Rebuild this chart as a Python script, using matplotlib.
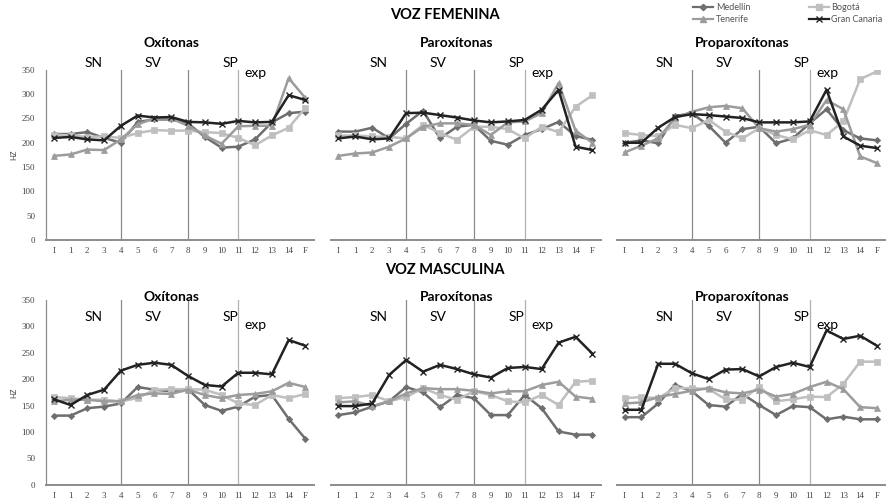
import matplotlib
matplotlib.use("Agg")
import matplotlib.pyplot as plt
from matplotlib.lines import Line2D

plt.rcParams['font.family'] = ['Lato', 'DejaVu Sans']

# categories on the x axis
positions = ["I", "1", "2", "3", "4", "5", "6", "7", "8", "9", "10", "11", "12", "13", "14", "F"]
panel_titles = ["Oxítonas", "Paroxítonas", "Proparoxítonas"]
speakers = ["Medellín", "Bogotá", "Tenerife", "Gran Canaria"]

# VOZ FEMENINA (Hz)
fem_oxi_medellin = [218, 218, 222, 210, 200, 243, 248, 248, 240, 212, 190, 192, 207, 242, 261, 264]
fem_oxi_bogota = [217, 215, 212, 213, 210, 220, 226, 225, 225, 222, 220, 210, 195, 215, 231, 272]
fem_oxi_tenerife = [173, 176, 186, 185, 207, 238, 250, 250, 235, 215, 198, 234, 235, 235, 333, 292]
fem_oxi_gcanaria = [210, 212, 207, 205, 235, 256, 252, 253, 243, 242, 239, 245, 242, 243, 298, 288]

fem_par_medellin = [223, 223, 231, 209, 239, 266, 209, 233, 237, 204, 196, 216, 228, 243, 214, 206]
fem_par_bogota = [215, 215, 213, 212, 209, 237, 220, 206, 233, 233, 228, 209, 233, 222, 274, 298]
fem_par_tenerife = [173, 178, 180, 192, 209, 233, 240, 240, 237, 216, 242, 244, 261, 323, 225, 200]
fem_par_gcanaria = [209, 213, 207, 209, 261, 262, 257, 252, 246, 242, 244, 247, 268, 309, 192, 185]

fem_pro_medellin = [200, 205, 199, 255, 261, 235, 200, 228, 233, 199, 209, 240, 269, 226, 209, 205]
fem_pro_bogota = [220, 216, 214, 237, 230, 247, 223, 209, 230, 216, 207, 226, 216, 244, 331, 347]
fem_pro_tenerife = [180, 194, 209, 251, 264, 273, 276, 271, 230, 223, 228, 237, 288, 269, 172, 158]
fem_pro_gcanaria = [200, 200, 231, 253, 259, 257, 254, 251, 242, 242, 242, 244, 309, 213, 194, 189]

# VOZ MASCULINA (Hz)
mas_oxi_medellin = [131, 131, 145, 148, 154, 185, 180, 177, 181, 151, 140, 148, 167, 170, 125, 87]
mas_oxi_bogota = [166, 164, 161, 161, 158, 164, 180, 181, 181, 180, 170, 154, 151, 170, 164, 172]
mas_oxi_tenerife = [158, 161, 161, 158, 158, 170, 173, 172, 180, 170, 164, 170, 172, 177, 193, 185]
mas_oxi_gcanaria = [162, 151, 170, 180, 216, 227, 231, 227, 206, 189, 186, 212, 212, 209, 274, 263]

mas_par_medellin = [132, 137, 148, 158, 185, 175, 147, 170, 164, 132, 132, 170, 145, 101, 95, 95]
mas_par_bogota = [164, 166, 170, 158, 166, 183, 170, 161, 177, 170, 158, 156, 170, 151, 195, 197]
mas_par_tenerife = [156, 158, 149, 158, 173, 183, 181, 181, 178, 173, 177, 177, 189, 195, 167, 163]
mas_par_gcanaria = [149, 149, 154, 208, 236, 214, 227, 219, 209, 203, 221, 223, 219, 269, 280, 248]

mas_pro_medellin = [128, 128, 154, 189, 177, 151, 148, 172, 151, 132, 149, 147, 124, 129, 124, 124]
mas_pro_bogota = [164, 166, 164, 183, 183, 181, 162, 161, 186, 158, 162, 167, 166, 191, 233, 233]
mas_pro_tenerife = [154, 156, 166, 172, 178, 183, 175, 173, 180, 167, 172, 185, 195, 181, 147, 145]
mas_pro_gcanaria = [142, 142, 229, 229, 211, 200, 218, 219, 205, 223, 231, 223, 292, 276, 282, 263]

fem_panels = [
    [fem_oxi_medellin, fem_oxi_bogota, fem_oxi_tenerife, fem_oxi_gcanaria],
    [fem_par_medellin, fem_par_bogota, fem_par_tenerife, fem_par_gcanaria],
    [fem_pro_medellin, fem_pro_bogota, fem_pro_tenerife, fem_pro_gcanaria],
]
mas_panels = [
    [mas_oxi_medellin, mas_oxi_bogota, mas_oxi_tenerife, mas_oxi_gcanaria],
    [mas_par_medellin, mas_par_bogota, mas_par_tenerife, mas_par_gcanaria],
    [mas_pro_medellin, mas_pro_bogota, mas_pro_tenerife, mas_pro_gcanaria],
]

# series styles: colour, marker, marker size
styles = {
    "Medellín": ("#6e6e6e", "D", 3.2),
    "Bogotá": ("#bfbfbf", "s", 4.2),
    "Tenerife": ("#9c9c9c", "^", 4.2),
    "Gran Canaria": ("#222222", "x", 4.5),
}

lefts = [0.052, 0.372, 0.694]
widths = [0.301, 0.304, 0.302]


def draw_row(fig, panels, bottom, height, sn_y, exp_y, title_y):
    axes = []
    for i, series in enumerate(panels):
        ax = fig.add_axes([lefts[i], bottom, widths[i], height])
        x = list(range(len(positions)))
        for name, values in zip(speakers, series):
            color, marker, ms = styles[name]
            ax.plot(x, values, color=color, marker=marker, markersize=ms,
                    linewidth=1.8, markeredgewidth=1.0 if marker == "x" else 0.5,
                    label=name, zorder=4 if name == "Gran Canaria" else 3)
        for xv, c in [(4, "#8a8a8a"), (8, "#8a8a8a"), (11, "#b0b0b0")]:
            ax.axvline(xv, color=c, linewidth=0.9, zorder=1)
        ax.set_xlim(-0.45, 15.5)
        ax.set_ylim(0, 350)
        ax.set_xticks(x)
        ax.set_xticklabels(positions, fontsize=6.5, family="Liberation Serif", color="#444444")
        ax.tick_params(axis="x", length=0, pad=5)
        for s in ["top", "right"]:
            ax.spines[s].set_visible(False)
        ax.spines["bottom"].set_color("#8c8c8c")
        ax.spines["bottom"].set_linewidth(1.4)
        if i == 0:
            ax.set_yticks(range(0, 351, 50))
            ax.tick_params(axis="y", length=0, labelsize=6.5, pad=8, labelcolor="#444444")
            for lab in ax.get_yticklabels():
                lab.set_family("Liberation Serif")
            ax.spines["left"].set_color("#8c8c8c")
            ax.spines["left"].set_linewidth(0.9)
            ax.set_ylabel("HZ", fontsize=5.5, color="#444444", labelpad=3)
        else:
            ax.spines["left"].set_visible(False)
            ax.set_yticks([])
        ax.text(7.0, title_y, panel_titles[i], ha="center", va="center",
                fontsize=10, fontweight="bold", clip_on=False)
        ax.text(2.35, sn_y, "SN", ha="center", va="center", fontsize=10, clip_on=False)
        ax.text(5.9, sn_y, "SV", ha="center", va="center", fontsize=10, clip_on=False)
        ax.text(10.5, sn_y, "SP", ha="center", va="center", fontsize=10, clip_on=False)
        ax.text(12.05, exp_y, "exp", ha="center", va="center", fontsize=10, clip_on=False)
        axes.append(ax)
    return axes


fig = plt.figure(figsize=(8.89, 5.03), dpi=100)

draw_row(fig, fem_panels, bottom=0.523, height=0.338, sn_y=364, exp_y=343, title_y=405)
draw_row(fig, mas_panels, bottom=0.036, height=0.368, sn_y=318, exp_y=302, title_y=355)

fig.text(0.5, 0.970, "VOZ FEMENINA", ha="center", va="center", fontsize=10.5, fontweight="bold")
fig.text(0.5, 0.463, "VOZ MASCULINA", ha="center", va="center", fontsize=10.5, fontweight="bold")

handles = []
for name in ["Medellín", "Tenerife", "Bogotá", "Gran Canaria"]:
    color, marker, ms = styles[name]
    handles.append(Line2D([], [], color=color, marker=marker, markersize=ms,
                          linewidth=1.6, label=name))
fig.legend(handles=handles, loc="upper right", bbox_to_anchor=(1.002, 1.01), ncol=2,
           frameon=False, fontsize=6.5, handlelength=2.2, columnspacing=6.5,
           labelspacing=0.3, handletextpad=0.3, labelcolor="#555555")

fig.savefig("out.png", dpi=100)
